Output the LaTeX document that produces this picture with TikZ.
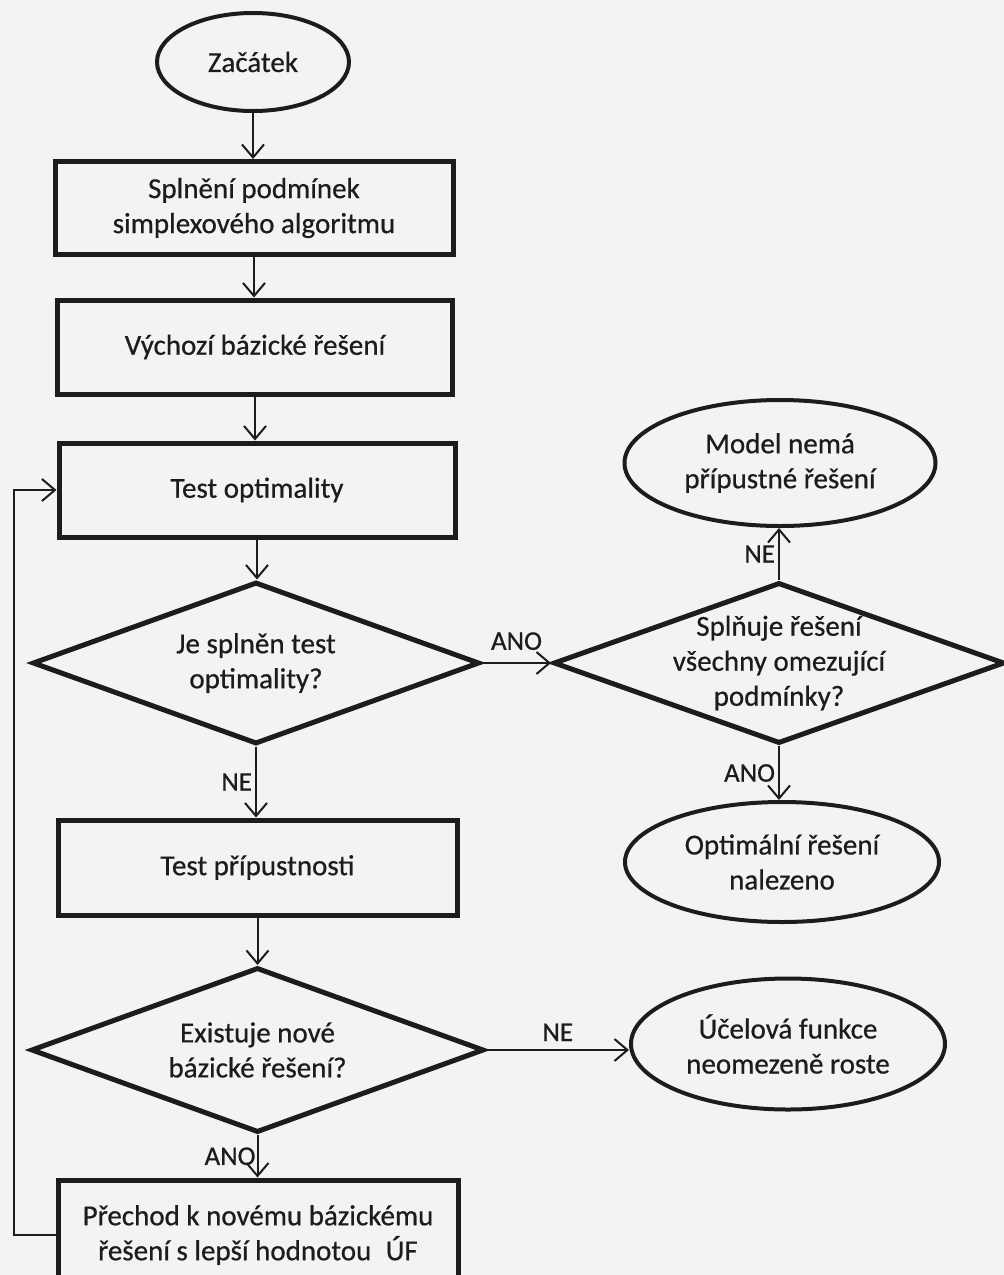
\documentclass[tikz,border=0pt]{standalone}
\usepackage{fontspec}
\setmainfont{Carlito}[FakeBold=0.6]
\usetikzlibrary{shapes.geometric,arrows.meta}
\definecolor{ink}{HTML}{1C1C1C}
\definecolor{paper}{HTML}{F3F3F3}
\begin{document}
\begin{tikzpicture}[x=1pt,y=-1pt,
  every node/.style={font=\fontsize{29}{35}\selectfont, text=ink, align=center},
  boxnode/.style={draw=ink, line width=5pt, rectangle, inner sep=0pt},
  ellnode/.style={draw=ink, line width=4pt, ellipse, inner sep=0pt},
  decnode/.style={draw=ink, line width=5pt, diamond, inner sep=0pt},
  arr/.style={draw=ink, line width=2pt, -{Straight Barb[length=13pt,width=22pt,line width=2pt]}},
  lbl/.style={font=\fontsize{27}{30}\selectfont, inner sep=3pt}]
\fill[paper] (0,0) rectangle (1004,1275);
\useasboundingbox (0,0) rectangle (1004,1275);
% nodes
\node[ellnode, minimum width=192pt, minimum height=98pt] (start) at (253,62) {Začátek};
\node[boxnode, minimum width=398pt, minimum height=93pt] (b1) at (254,208) {Splnění podmínek\\simplexového algoritmu};
\node[boxnode, minimum width=395pt, minimum height=94pt] (b2) at (255,347) {Výchozí bázické řešení};
\node[boxnode, minimum width=396pt, minimum height=94pt] (b3) at (257,490) {Test optimality};
\node[decnode, minimum width=447pt, minimum height=162pt] (d1) at (256,663) {};
\node (d1t) at (d1.center) {Je splněn test\\optimality?};
\node[decnode, minimum width=451pt, minimum height=161pt] (d3) at (779,663) {};
\node (d3t) at (d3.center) {Splňuje řešení\\všechny omezující\\podmínky?};
\node[ellnode, minimum width=311pt, minimum height=126pt] (m) at (780,463) {Model nemá\\přípustné řešení};
\node[ellnode, minimum width=314pt, minimum height=120pt] (opt) at (782,862) {Optimální řešení\\nalezeno};
\node[boxnode, minimum width=399pt, minimum height=95pt] (b4) at (257.5,867.5) {Test přípustnosti};
\node[decnode, minimum width=453pt, minimum height=165pt] (d2) at (257.5,1050) {};
\node (d2t) at (d2.center) {Existuje nové\\bázické řešení?};
\node[ellnode, minimum width=314pt, minimum height=131pt] (u) at (788,1044) {Účelová funkce\\neomezeně roste};
\node[boxnode, minimum width=400pt, minimum height=110pt] (b5) at (258,1235) {Přechod k novému bázickému\\řešení s lepší hodnotou\enspace ÚF};
% connectors
\draw[arr] (start.south) -- (start.south |- b1.north);
\draw[arr] (b1.south) -- (b1.south |- b2.north);
\draw[arr] (b2.south) -- (b2.south |- b3.north);
\draw[arr] (b3.south) -- (b3.south |- d1.north);
\draw[arr] (d1.east) -- (d3.west) node[lbl, midway, above=9pt] {ANO};
\draw[arr] (d1.south) -- (d1.south |- b4.north) node[lbl, midway, left] {NE};
\draw[arr] (d3.north) -- (d3.north |- m.south) node[lbl, midway, left] {NE};
\draw[arr] (d3.south) -- (d3.south |- opt.north) node[lbl, midway, left] {ANO};
\draw[arr] (b4.south) -- (b4.south |- d2.north);
\draw[arr] (d2.east) -- (d2.east -| u.west) node[lbl, midway, above=5pt] {NE};
\draw[arr] (d2.south) -- (d2.south |- b5.north) node[lbl, midway, left, inner sep=1pt] {ANO};
\coordinate (fb) at (14,0);
\draw[arr] (b5.west) -- (fb |- b5.west) -- (fb |- b3.west) -- (b3.west);
\end{tikzpicture}
\end{document}
